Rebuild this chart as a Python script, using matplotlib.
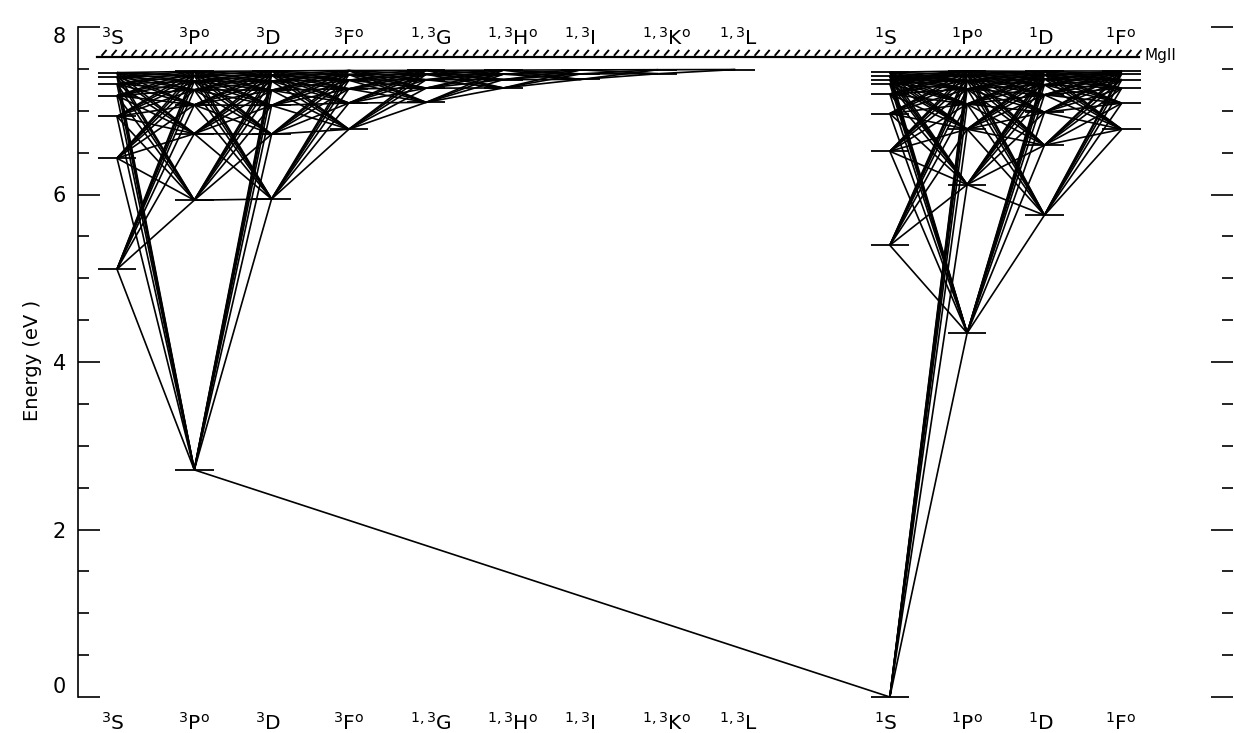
import numpy as np
import matplotlib.pyplot as plt
from matplotlib.collections import LineCollection

# Mg I term diagram - level energies (eV)
e_3S = [5.108, 6.434, 6.932, 7.181, 7.321, 7.406, 7.455]
e_3P = [2.712, 5.932, 6.726, 7.070, 7.250, 7.350, 7.420, 7.470]
e_3D = [5.946, 6.719, 7.063, 7.245, 7.354, 7.425, 7.475]
e_3F = [6.779, 7.092, 7.262, 7.365, 7.432, 7.480]
e_G = [7.100, 7.270, 7.370, 7.435, 7.482]
e_H = [7.272, 7.372, 7.437, 7.485]
e_I = [7.374, 7.440, 7.488]
e_K = [7.442, 7.490]
e_L = [7.492]
e_1S = [0.0, 5.394, 6.516, 6.966, 7.200, 7.320, 7.370, 7.410, 7.460]
e_1P = [4.346, 6.118, 6.780, 7.080, 7.260, 7.360, 7.430, 7.475]
e_1D = [5.753, 6.588, 6.981, 7.190, 7.310, 7.380, 7.430, 7.470]
e_1F = [6.779, 7.090, 7.270, 7.370, 7.440, 7.470]
e_ion = 7.646

triplet_labels = [r'$^{3}$S', r'$^{3}$P$^{\rm o}$', r'$^{3}$D', r'$^{3}$F$^{\rm o}$',
                  r'$^{1,3}$G', r'$^{1,3}$H$^{\rm o}$', r'$^{1,3}$I', r'$^{1,3}$K$^{\rm o}$',
                  r'$^{1,3}$L']
singlet_labels = [r'$^{1}$S', r'$^{1}$P$^{\rm o}$', r'$^{1}$D', r'$^{1}$F$^{\rm o}$']

triplets = [e_3S, e_3P, e_3D, e_3F, e_G, e_H, e_I, e_K, e_L]
singlets = [e_1S, e_1P, e_1D, e_1F]

x_trip = np.arange(len(triplets))
x_sing = len(triplets) + 1 + np.arange(len(singlets))

fig = plt.figure(figsize=(12.34, 7.33), dpi=100)
ax = fig.add_axes([78 / 1234, 36 / 733, 1155 / 1234, 670 / 733])
ax.set_xlim(-0.5045, 14.44)
ax.set_ylim(0, 8)

# transitions between neighbouring terms
segs = []
for xs, cols in ((x_trip, triplets), (x_sing, singlets)):
    for i in range(len(cols) - 1):
        for a in cols[i]:
            for b in cols[i + 1]:
                segs.append([(xs[i], a), (xs[i + 1], b)])
# intercombination line 3P - ground
segs.append([(x_trip[1], e_3P[0]), (x_sing[0], e_1S[0])])
ax.add_collection(LineCollection(segs, colors='black', linewidths=1.2, clip_on=False))

# level bars
bars = []
for xs, cols in ((x_trip, triplets), (x_sing, singlets)):
    for x, col in zip(xs, cols):
        for e in col:
            bars.append([(x - 0.25, e), (x + 0.25, e)])
ax.add_collection(LineCollection(bars, colors='black', linewidths=1.3, clip_on=False))

# ionisation limit with hatching
ax.plot([-0.26, 13.23], [e_ion, e_ion], color='black', lw=1.6)
hx = np.arange(-0.2, 13.2, 0.13)
hatch = [[(x, e_ion + 0.01), (x + 0.065, e_ion + 0.08)] for x in hx]
ax.add_collection(LineCollection(hatch, colors='black', linewidths=1.4))
ax.text(13.29, e_ion + 0.01, 'MgII', fontsize=11, va='center', ha='left')

# term labels top and bottom
for xs, labs in ((x_trip, triplet_labels), (x_sing, singlet_labels)):
    for x, lab in zip(xs, labs):
        ax.text(x - 0.21, 7.785, lab, fontsize=14.5, ha='left', va='baseline')
        ax.text(x - 0.21, -0.394, lab, fontsize=14.5, ha='left', va='baseline', clip_on=False)

for s in ['top', 'bottom', 'right']:
    ax.spines[s].set_visible(False)
ax.spines['left'].set_linewidth(1.2)
ax.set_xticks([])
ax.set_yticks([0, 2, 4, 6, 8])
ax.set_yticks(np.arange(0, 8.01, 0.5), minor=True)
ax.tick_params(axis='y', which='both', direction='in', left=True, right=True, width=1.2)
ax.tick_params(axis='y', which='major', length=15.5, labelsize=15, pad=8.5)
ax.tick_params(axis='y', which='minor', length=8)
ticks = ax.yaxis.get_major_ticks()
ticks[0].label1.set_va('bottom')
ticks[-1].label1.set_va('top')

ax.set_ylabel('Energy (eV )', fontsize=14)
ax.yaxis.set_label_coords(-0.031, 0.503)

fig.savefig('out.png', dpi=100)
